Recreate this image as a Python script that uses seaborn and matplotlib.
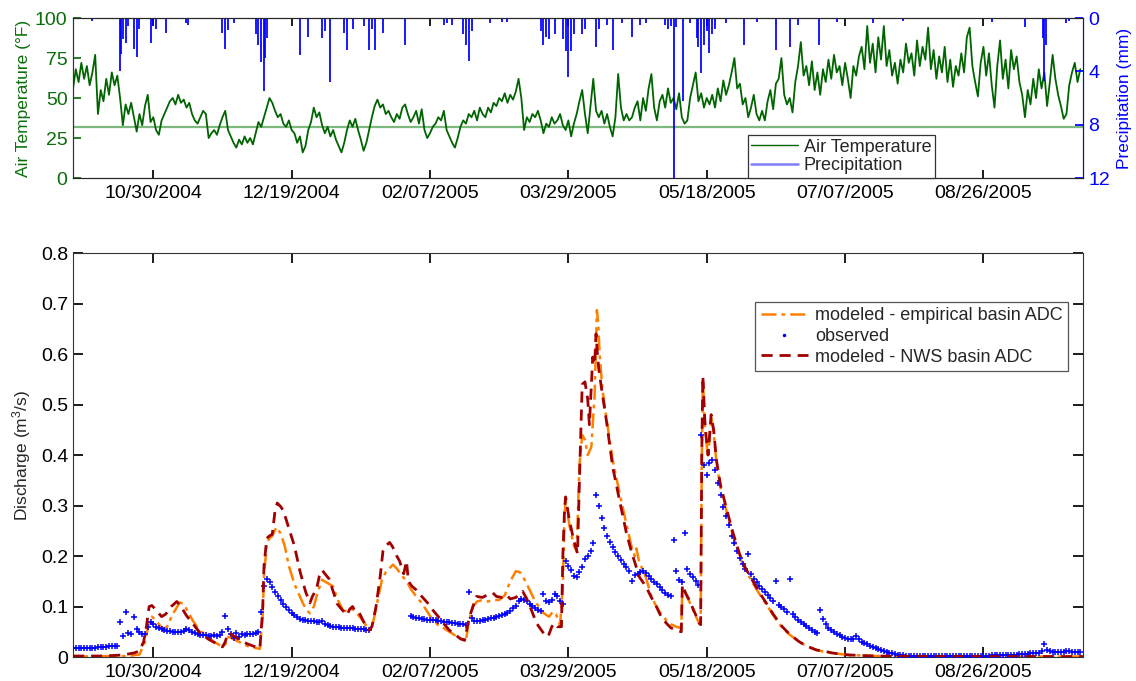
import numpy as np
import pandas as pd
import matplotlib
matplotlib.use("Agg")
import matplotlib.pyplot as plt
import seaborn as sns
from matplotlib.lines import Line2D

# ---------------- data ----------------
START = "2004-10-01"
END = "2005-10-01"
FREEZING_F = 32

tick_labels = ["10/30/2004", "12/19/2004", "02/07/2005", "03/29/2005",
               "05/18/2005", "07/07/2005", "08/26/2005"]

# daily air temperature (deg F), day 0 = 2004-10-01
temp_f = [
    56, 68, 60, 72, 62, 70, 58, 66, 77, 40,
    55, 48, 62, 52, 66, 58, 64, 50, 33, 46,
    40, 47, 38, 29, 40, 33, 45, 52, 35, 38,
    30, 27, 36, 40, 44, 48, 50, 46, 52, 47,
    49, 44, 47, 40, 36, 34, 38, 42, 40, 25,
    28, 30, 27, 33, 38, 42, 30, 26, 22, 19,
    24, 21, 26, 22, 25, 21, 28, 35, 32, 38,
    44, 50, 47, 42, 38, 40, 34, 32, 36, 30,
    28, 22, 26, 16, 20, 30, 35, 44, 38, 41,
    33, 28, 32, 26, 30, 24, 20, 16, 22, 30,
    36, 32, 37, 30, 24, 17, 22, 30, 38, 45,
    49, 44, 46, 40, 42, 38, 35, 40, 37, 44,
    46, 40, 35, 38, 42, 34, 43, 30, 25, 28,
    32, 34, 38, 36, 42, 30, 26, 22, 19, 25,
    32, 36, 34, 40, 38, 42, 36, 44, 40, 38,
    44, 41, 47, 45, 50, 48, 53, 47, 52, 49,
    54, 62, 50, 30, 38, 35, 40, 38, 42, 36,
    28, 34, 32, 38, 34, 36, 40, 33, 30, 36,
    26, 34, 40, 48, 55, 40, 28, 45, 62, 42,
    38, 42, 34, 40, 32, 26, 38, 65, 44, 36,
    40, 36, 38, 44, 48, 36, 50, 42, 56, 65,
    44, 36, 48, 52, 44, 56, 47, 50, 43, 53,
    38, 34, 36, 50, 58, 66, 48, 53, 44, 50,
    46, 52, 44, 56, 48, 61, 52, 58, 66, 75,
    56, 59, 46, 50, 38, 44, 52, 40, 36, 42,
    36, 48, 55, 43, 59, 62, 75, 52, 46, 50,
    41, 60, 70, 85, 64, 70, 58, 73, 55, 66,
    52, 68, 60, 74, 62, 77, 66, 70, 58, 72,
    62, 50, 70, 64, 76, 82, 68, 95, 72, 84,
    66, 88, 74, 95, 70, 80, 64, 72, 59, 74,
    66, 84, 72, 78, 64, 86, 70, 82, 74, 94,
    68, 80, 62, 76, 66, 82, 60, 74, 57, 70,
    64, 78, 66, 88, 94, 70, 60, 51, 72, 82,
    64, 78, 58, 44, 70, 86, 62, 74, 56, 80,
    68, 76, 60, 52, 38, 55, 46, 62, 50, 68,
    56, 66, 45, 60, 77, 62, 52, 45, 37, 40,
    58, 66, 72, 60, 68,
]

# precipitation events (day offset, mm)
precip_day = [7, 17, 17.5, 18, 19, 20, 22, 23, 24, 28, 29, 30, 33.5, 41, 41.5,
              54, 55, 56, 58, 66, 67, 68, 69, 69.5, 70, 82, 85, 90, 91, 93,
              98, 99, 101, 105, 107, 108, 109, 112, 120, 134, 135, 137, 141,
              142, 143, 144, 150.5, 155, 157, 169, 170, 171, 172, 174, 177,
              178, 179, 180, 181, 184, 185, 189, 190, 193, 195, 198.5, 202,
              205, 207, 214, 215, 216, 217, 218, 220.5, 223, 225.5, 226, 227,
              228, 229, 230, 231, 232, 236, 242.5, 247, 254, 259, 262, 269.5,
              276, 289, 300, 332, 344, 350.5, 351, 351.5, 359, 360]
precip_mm = [0.2, 4.0, 2.7, 1.6, 1.9, 0.6, 2.3, 2.9, 0.8, 1.9, 0.6, 0.8, 1.1, 0.4, 0.5,
             1.1, 2.3, 0.9, 0.4, 1.2, 2.0, 3.3, 5.5, 3.0, 1.5, 2.8, 1.4, 1.5, 1.0, 4.8,
             1.1, 2.4, 0.8, 0.6, 2.4, 0.8, 2.4, 1.1, 2.0, 0.5, 0.4, 0.5, 1.2,
             2.0, 3.2, 1.0, 0.4, 0.3, 0.3, 1.0, 2.0, 1.4, 1.6, 1.2, 1.6,
             2.5, 4.4, 2.5, 1.2, 1.2, 0.8, 2.2, 0.8, 0.5, 2.4, 0.4, 1.4,
             0.5, 0.4, 0.5, 0.8, 0.6, 12.5, 0.7, 6.2, 0.4, 1.5, 2.2, 4.1,
             2.0, 1.0, 2.6, 1.2, 0.8, 0.4, 2.0, 0.3, 2.4, 2.2, 0.5, 2.0,
             0.3, 0.4, 0.2, 0.3, 0.7, 1.5, 4.7, 2.0, 0.4, 0.2]

nan = np.nan
# observed discharge (m3/s), daily, day 0 = 2004-10-01
obs_q = [
    .017, .017, .017, .017, .017, .018, .017, .018, .018, .019,
    .019, .020, .020, .021, .021, .022, .022, .069, .042, .090,
    .047, .045, .080, .055, .050, .046, .045, .060, .070, .066,
    .060, .057, .055, .053, .052, .051, .050, .050, .049, .050,
    .052, .055, .054, .050, .047, .045, .044, .043, .043, .042,
    .042, .043, .042, .044, .050, .082, .055, .045, .038, .048,
    .040, .046, .044, .045, .045, .046, .047, .050, .090, .140,
    .155, .148, .138, .128, .120, .113, .106, .100, .094, .088,
    .083, .079, .076, .074, .073, .072, .072, .071, .070, .070,
    .072, .066, .063, .061, .060, .059, .059, .058, .058, .058,
    .057, .057, .056, .056, .055, .055, .054, .053, nan, nan,
    nan, nan, nan, nan, nan, nan, nan, nan, nan, nan,
    nan, nan, .082, .080, .078, .077, .076, .075, .074, .074,
    .073, .073, .072, .071, .070, .070, .069, .068, .067, .066,
    .066, .065, .063, .128, .078, .072, .071, .072, .073, .074,
    .075, .077, .078, .080, .082, .083, .085, .088, .092, .097,
    .102, .110, .114, .113, .110, .106, .102, .098, .094, .092,
    .125, .110, .108, .112, .125, .120, .110, .105, .190, .180,
    .172, .160, .158, .168, .178, .195, .200, .210, .225, .320,
    .300, .275, .255, .240, .228, .218, .208, .200, .192, .185,
    .178, .170, .150, .162, .165, .168, .170, .166, .160, .154,
    .149, .144, .138, .132, .127, .123, .120, .232, .170, .152,
    .148, .245, .175, .165, .158, .150, .142, .440, .380, .360,
    .385, .390, .370, .345, .320, .298, .280, .262, .240, .225,
    .210, .196, .185, .175, .205, .165, .155, .148, .140, .134,
    .128, .122, .116, .110, .150, .104, .100, .096, .090, .155,
    .086, .080, .074, .070, .066, .062, .058, .054, .050, .048,
    .093, .075, .065, .058, .053, .049, .046, .043, .040, .038,
    .036, .035, .036, .042, .035, .030, .027, .025, .022, .019,
    .017, .015, .013, .011, .010, .008, .007, .006, .005, .004,
    .004, .003, .003, .003, .003, .003, .003, .002, .002, .002,
    .002, .002, .002, .002, .002, .002, .002, .002, .002, .002,
    .002, .002, .002, .002, .003, .003, .003, .003, .003, .003,
    .003, .003, .004, .004, .004, .004, .004, .005, .005, .005,
    .005, .005, .006, .006, .006, .006, .007, .007, .007, .008,
    .012, .026, .014, .011, .010, .010, .010, .010, .010, .011,
    .011, .010, .010, .010, .010,
]

# modeled - NWS basin ADC
nws_day = [0, 10, 18, 22, 24, 25.5, 26.5, 27.5, 28.5, 30, 32, 33.5, 35.5, 37.5, 39, 41,
           43, 46, 49, 52, 54, 55, 56, 57, 60, 63, 66, 67.5, 68.5, 69, 70, 71, 72,
           73, 73.8, 75, 76, 78, 80, 82, 84, 85.6, 86.5, 88, 89, 90, 91, 92.5, 94,
           95.5, 97, 99, 100, 101, 102, 103.5, 105, 107, 108, 109.5, 111, 112,
           113, 114.4, 115.5, 117, 118, 119.5, 120.5, 121.2, 122.5, 124, 126,
           128, 130, 132, 134, 136, 138, 140, 141.5, 142.5, 143.3, 144.5, 145.8,
           148, 150, 151.7, 153, 155, 156.7, 158, 160, 162.5, 164, 165.5, 167.5,
           169, 171, 172, 173, 174, 175, 176.5, 177, 177.6, 178, 179.4, 181,
           182.3, 183, 184, 185, 186, 186.6, 187.8, 188.5, 189, 189.5, 190,
           191.3, 192.7, 195, 197.5, 200, 202, 204.7, 207, 209, 210.8, 212.5,
           214.4, 216, 218, 219.8, 220.2, 221.5, 222.7, 224.5, 226.3, 226.8,
           227.2, 227.6, 228.3, 228.8, 229.5, 230.6, 231.5, 232.5, 234, 236,
           238, 240.8, 243, 245.5, 248, 250.5, 253, 256.3, 259, 262.5, 265,
           268.6, 271, 274.4, 277, 280.5, 290, 310, 340, 365]
nws_q = [0.002, 0.002, 0.004, 0.008, 0.012, 0.03, 0.06, 0.1, 0.102, 0.093, 0.08, 0.085,
         0.1, 0.11, 0.1, 0.082, 0.068, 0.047, 0.035, 0.026, 0.02, 0.03, 0.048, 0.045,
         0.035, 0.026, 0.02, 0.017, 0.09, 0.18, 0.235, 0.24, 0.243, 0.29, 0.305,
         0.298, 0.29, 0.255, 0.22, 0.17, 0.13, 0.107, 0.12, 0.135, 0.16, 0.172,
         0.165, 0.155, 0.13, 0.105, 0.095, 0.083, 0.095, 0.1, 0.09, 0.087, 0.07,
         0.053, 0.06, 0.1, 0.16, 0.21, 0.22, 0.227, 0.218, 0.2, 0.19, 0.165,
         0.19, 0.15, 0.14, 0.133, 0.12, 0.108, 0.093, 0.08, 0.066, 0.053, 0.045,
         0.036, 0.033, 0.06, 0.08, 0.1, 0.12, 0.118, 0.124, 0.127, 0.12, 0.118,
         0.123, 0.115, 0.118, 0.13, 0.115, 0.095, 0.067, 0.055, 0.04, 0.045,
         0.06, 0.067, 0.06, 0.06, 0.2, 0.29, 0.317, 0.27, 0.23, 0.205, 0.35,
         0.54, 0.545, 0.51, 0.46, 0.594, 0.58, 0.64, 0.6, 0.57, 0.52, 0.47,
         0.377, 0.31, 0.245, 0.205, 0.158, 0.14, 0.118, 0.1, 0.08, 0.067, 0.058,
         0.053, 0.05, 0.143, 0.125, 0.113, 0.09, 0.067, 0.064, 0.4, 0.556, 0.47,
         0.435, 0.4, 0.48, 0.45, 0.39, 0.34, 0.297, 0.255, 0.205, 0.176, 0.152,
         0.128, 0.107, 0.085, 0.06, 0.045, 0.03, 0.022, 0.014, 0.012, 0.008,
         0.006, 0.004, 0.002, 0.001, 0.001, 0.001]

# modeled - empirical basin ADC
emp_day = [0, 20, 24, 26, 27.5, 28.5, 30, 32.5, 34, 36, 38.6, 40, 41.5, 43.3, 45, 48,
           51, 54, 55, 56, 57, 60, 63, 66, 67.5, 68.5, 69, 70, 71, 72, 73.5, 75,
           76.5, 78, 80, 82, 83, 84.5, 85.6, 87, 88.5, 90, 91.5, 94, 95.5, 97.5,
           99, 101, 102.5, 105, 107, 108.5, 110, 111.5, 113, 115.6, 117, 119,
           120.6, 122, 124, 126, 128, 130, 132, 134, 136, 138, 140, 142, 143,
           144.5, 146, 148, 150, 152, 154, 156, 158, 160, 161.5, 163, 165, 167,
           170, 172, 173.5, 174.5, 176, 177, 177.6, 178, 179.4, 181, 182, 183,
           184, 185, 186, 187.3, 188.5, 189, 189.3, 189.8, 190.3, 191.3, 192.7,
           195, 197.5, 200, 202, 203, 203.6, 204.5, 207, 209, 210.8, 212.5,
           214.4, 216, 218, 219.8, 220.2, 221.5, 222.7, 224.5, 226.3, 226.8,
           227.2, 227.6, 228.3, 228.8, 229.5, 230.6, 231.5, 232.5, 234, 236,
           238, 240.8, 243, 245.5, 248, 250.5, 253, 256.3, 259, 262.5, 265,
           268.6, 271, 274.4, 277, 280.5, 290, 310, 340, 365]
emp_q = [0.001, 0.002, 0.005, 0.03, 0.07, 0.08, 0.072, 0.055, 0.06, 0.085, 0.108, 0.105,
         0.09, 0.072, 0.058, 0.042, 0.03, 0.02, 0.025, 0.04, 0.038, 0.03, 0.022,
         0.018, 0.016, 0.08, 0.16, 0.225, 0.235, 0.24, 0.257, 0.245, 0.22, 0.18,
         0.145, 0.12, 0.107, 0.092, 0.087, 0.1, 0.13, 0.153, 0.148, 0.14, 0.115,
         0.093, 0.09, 0.095, 0.087, 0.07, 0.053, 0.07, 0.11, 0.15, 0.168, 0.183,
         0.175, 0.16, 0.15, 0.135, 0.12, 0.107, 0.09, 0.073, 0.063, 0.057, 0.05,
         0.043, 0.037, 0.033, 0.07, 0.1, 0.11, 0.113, 0.11, 0.113, 0.113, 0.122,
         0.15, 0.17, 0.168, 0.155, 0.133, 0.11, 0.087, 0.08, 0.09, 0.085, 0.063,
         0.14, 0.28, 0.31, 0.26, 0.22, 0.21, 0.38, 0.44, 0.43, 0.40, 0.416, 0.52,
         0.62, 0.687, 0.66, 0.6, 0.53, 0.475, 0.39, 0.325, 0.262, 0.215, 0.2,
         0.215, 0.19, 0.158, 0.12, 0.1, 0.085, 0.073, 0.065, 0.06, 0.057, 0.14,
         0.124, 0.11, 0.088, 0.066, 0.065, 0.38, 0.55, 0.46, 0.43, 0.395, 0.475,
         0.445, 0.385, 0.335, 0.292, 0.25, 0.2, 0.172, 0.148, 0.125, 0.105,
         0.083, 0.058, 0.044, 0.03, 0.022, 0.014, 0.011, 0.008, 0.006, 0.004,
         0.002, 0.001, 0.001, 0.001]

# ---------------- styling ----------------
GREEN = "#006400"
GREEN_LABEL = "#0b6e0b"
FREEZE_GREEN = "#7fb87f"
BLUE = "#0000ff"
ORANGE = "#ff8000"
DARKRED = "#a00000"
TICK_FS = 14
LABEL_FS = 12.5
LEGEND_FS = 13

sns.set_theme(style="ticks")
plt.rcParams["font.family"] = ["Liberation Sans", "DejaVu Sans"]
plt.rcParams["mathtext.default"] = "regular"
plt.rcParams["axes.linewidth"] = 0.8


def to_dates(days):
    return pd.Timestamp(START) + pd.to_timedelta(np.asarray(days, dtype=float), unit="D")


tick_dates = pd.to_datetime(tick_labels, format="%m/%d/%Y")
xlim = (pd.Timestamp(START), pd.Timestamp(END))

fig = plt.figure(figsize=(11.36, 6.81), dpi=100)
ax_t = fig.add_axes([0.0643, 0.7386, 0.8891, 0.2349])
ax_p = ax_t.twinx()
ax_b = fig.add_axes([0.0643, 0.0352, 0.8891, 0.5932])

# ---------------- top panel ----------------
temp_df = pd.DataFrame({"date": to_dates(range(len(temp_f))), "temp": temp_f})
ax_t.axhline(FREEZING_F, color=FREEZE_GREEN, lw=1.6, zorder=1)
sns.lineplot(data=temp_df, x="date", y="temp", ax=ax_t, color=GREEN, lw=1.3,
             estimator=None, sort=False, legend=False, zorder=2)
ax_t.set_ylim(0, 100)
ax_t.set_yticks([0, 25, 50, 75, 100])
ax_t.set_ylabel("Air Temperature (\u00b0F)", color=GREEN_LABEL, fontsize=LABEL_FS,
                labelpad=3)
ax_t.tick_params(axis="y", colors=GREEN_LABEL, labelsize=TICK_FS, direction="in",
                 length=6, pad=4)
ax_t.tick_params(axis="x", direction="in", length=6, top=True, labelsize=TICK_FS, pad=5,
                 colors="black")
ax_t.set_xlabel("")

ax_p.vlines(to_dates(precip_day), 0, precip_mm, color=BLUE, lw=1.4, alpha=0.9)
ax_p.set_ylim(12, 0)
ax_p.set_yticks([0, 4, 8, 12])
ax_p.set_ylabel("Precipitation (mm)", color=BLUE, fontsize=LABEL_FS, labelpad=5)
ax_p.tick_params(axis="y", colors=BLUE, labelsize=TICK_FS, direction="in", length=6,
                 pad=4)
ax_p.spines["right"].set_color(BLUE)
ax_p.spines["left"].set_color("#333333")

for a in (ax_t, ax_p):
    a.set_xlim(*xlim)
    a.set_xticks(tick_dates)
    a.set_xticklabels(tick_labels)

top_handles = [Line2D([], [], color=GREEN, lw=1.0, label="Air Temperature"),
               Line2D([], [], color="#7f7fff", lw=1.8, label="Precipitation")]
leg_t = ax_p.legend(handles=top_handles, loc="lower left", bbox_to_anchor=(0.668, 0.0),
                    fontsize=LEGEND_FS, frameon=True, fancybox=False, framealpha=1,
                    edgecolor="#333333", borderpad=0.2, handlelength=2.6,
                    handletextpad=0.3, labelspacing=0.1, borderaxespad=0)
leg_t.get_frame().set_linewidth(0.9)

# ---------------- bottom panel ----------------
emp_df = pd.DataFrame({"date": to_dates(emp_day), "q": emp_q})
nws_df = pd.DataFrame({"date": to_dates(nws_day), "q": nws_q})
obs_df = pd.DataFrame({"date": to_dates(range(len(obs_q))), "q": obs_q}).dropna()

sns.lineplot(data=emp_df, x="date", y="q", ax=ax_b, color=ORANGE, lw=1.8,
             linestyle=(0, (6, 2, 1.5, 2)), estimator=None, sort=False, legend=False)
sns.scatterplot(data=obs_df, x="date", y="q", ax=ax_b, color=BLUE, marker="+",
                s=18, linewidth=1.1, legend=False, zorder=3)
sns.lineplot(data=nws_df, x="date", y="q", ax=ax_b, color=DARKRED, lw=2.0,
             linestyle=(0, (4, 2.5)), estimator=None, sort=False, legend=False, zorder=4)

ax_b.set_xlim(*xlim)
ax_b.set_ylim(0, 0.8)
ax_b.set_yticks(np.arange(0, 0.81, 0.1))
ax_b.set_yticklabels(["0", "0.1", "0.2", "0.3", "0.4", "0.5", "0.6", "0.7", "0.8"])
ax_b.set_xticks(tick_dates)
ax_b.set_xticklabels(tick_labels)
ax_b.set_xlabel("")
ax_b.set_ylabel("Discharge (m$^3$/s)", fontsize=LABEL_FS, labelpad=6)
ax_b.tick_params(direction="in", length=7, top=True, right=True, labelsize=TICK_FS,
                 colors="black")
ax_b.tick_params(axis="x", pad=5)
for s in ax_b.spines.values():
    s.set_color("#333333")
    s.set_visible(True)
for s in ax_t.spines.values():
    s.set_visible(True)

bot_handles = [
    Line2D([], [], color=ORANGE, lw=1.8, linestyle=(0, (6, 2, 1.5, 2)),
           label="modeled - empirical basin ADC"),
    Line2D([], [], color=BLUE, marker=".", markersize=3, linestyle="none",
           label="observed"),
    Line2D([], [], color=DARKRED, lw=2.0, linestyle=(0, (4, 2.5)),
           label="modeled - NWS basin ADC"),
]
leg_b = ax_b.legend(handles=bot_handles, loc="upper right",
                    bbox_to_anchor=(0.985, 0.879), fontsize=LEGEND_FS, frameon=True,
                    fancybox=False, framealpha=1, edgecolor="#555555",
                    borderpad=0.3, handlelength=2.6, handletextpad=0.4,
                    labelspacing=0.2, borderaxespad=0)
leg_b.get_frame().set_linewidth(0.9)

fig.savefig("out.png", dpi=100)
